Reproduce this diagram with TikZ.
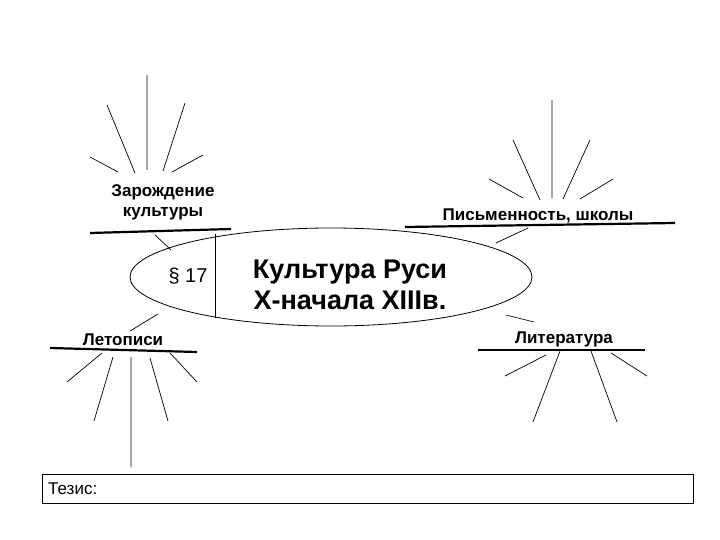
\documentclass[tikz,border=0pt]{standalone}
\usepackage{fontspec}
\setmainfont{Liberation Sans}
\begin{document}
\begin{tikzpicture}[x=1pt,y=-1pt,
  lbl/.style={font=\fontsize{17}{20}\selectfont\bfseries,align=center,inner sep=0pt},
  ray/.style={line width=0.7pt},
  uline/.style={line width=2.2pt}]
\useasboundingbox (0,0) rectangle (720,540);
\draw[line width=0.8pt] (331,277) ellipse [x radius=201, y radius=49];
\draw[line width=0.8pt] (215,234) -- (215,318);
\node[font=\fontsize{20}{24}\selectfont,inner sep=0pt] (par) at (188,276) {§ 17};
\node[font=\fontsize{27}{31}\selectfont\bfseries,align=center,inner sep=0pt] (title) at (350,285) {Культура Руси\\X-начала XIIIв.};
% Zarozhdenie
\node[lbl] (z) at (163,202) {Зарождение\\культуры};
\draw[uline] (90,233) -- (231,229);
\draw[ray] (147,75) -- (147,170) (107,105) -- (135,173) (185,103) -- (163,171) (90,157) -- (118,172) (203,155) -- (172,172) (155,235) -- (171,250);
% Pismennost
\node[lbl] (p) at (538,216) {Письменность, школы};
\draw[uline] (405,227) -- (675,223);
\draw[ray] (552,100) -- (552,198) (513,140) -- (540,200) (590,140) -- (563,199) (489,179) -- (523,198) (613,179) -- (580,199) (528,228) -- (496,243);
% Letopisi
\node[lbl] (l) at (123,340) {Летописи};
\draw[uline] (50,348) -- (197,352);
\draw[ray] (158,314) -- (130,331) (102,353) -- (67,382) (113,357) -- (94,421) (131,357) -- (131,467) (150,358) -- (168,421) (170,353) -- (197,382);
% Literatura
\node[lbl] (lit) at (564,339) {Литература};
\draw[uline] (478,350) -- (645,350);
\draw[ray] (506,315) -- (534,322) (546,355) -- (505,376) (560,351) -- (533,422) (591,351) -- (617,422) (611,353) -- (647,376);
% Thesis
\draw[line width=0.8pt] (42,474) rectangle (693,503);
\node[font=\fontsize{17}{20}\selectfont,anchor=west,inner sep=0pt] (t) at (48,489) {Тезис:};
\end{tikzpicture}
\end{document}
